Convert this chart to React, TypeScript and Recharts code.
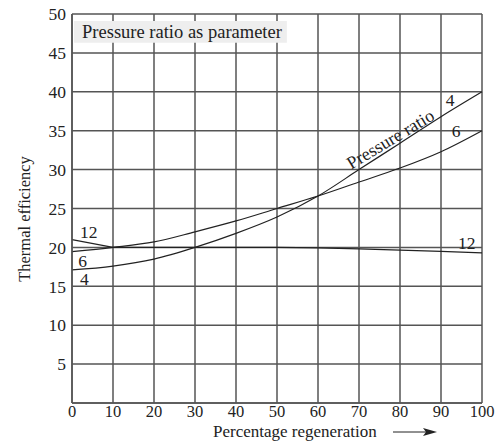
import {
  LineChart,
  Line,
  XAxis,
  YAxis,
  CartesianGrid,
  ReferenceArea,
  ReferenceDot,
} from 'recharts'

const FONT = '"Liberation Serif", "DejaVu Serif", serif'
const INK = '#222'
const GRID = '#555'

const regeneration = [0, 10, 20, 30, 40, 50, 60, 70, 80, 90, 100]
const ratio4 = [17.1, 17.6, 18.5, 20.0, 21.8, 23.9, 26.6, 30.0, 33.4, 36.8, 40.0]
const ratio6 = [19.45, 20.0, 20.7, 22.0, 23.4, 25.0, 26.6, 28.4, 30.2, 32.3, 35.0]
const ratio12 = [21.0, 20.0, 20.0, 20.0, 20.0, 20.0, 19.95, 19.8, 19.65, 19.5, 19.3]

const xTicks = [0, 10, 20, 30, 40, 50, 60, 70, 80, 90, 100]
const yTicks = [5, 10, 15, 20, 25, 30, 35, 40, 45, 50]

// curve tags: [text, x, y]
const curveTags: [string, number, number][] = [
  ['12', 4.1, 22.0],
  ['6', 2.6, 18.2],
  ['4', 3.0, 15.9],
  ['4', 92.2, 38.9],
  ['6', 93.7, 35.0],
  ['12', 96.3, 20.6],
]

const data = regeneration.map((x, i) => ({
  x,
  r4: ratio4[i],
  r6: ratio6[i],
  r12: ratio12[i],
}))

// eslint-disable-next-line @typescript-eslint/no-explicit-any
const tagLabel = (value: string) => (props: any) => {
  const { viewBox } = props
  const cx = viewBox.x + viewBox.width / 2
  const cy = viewBox.y + viewBox.height / 2
  return (
    <text x={cx} y={cy} dy={6} textAnchor="middle" fontSize={17.5} fontFamily={FONT} fill={INK}>
      {value}
    </text>
  )
}

// eslint-disable-next-line @typescript-eslint/no-explicit-any
const slantLabel = (props: any) => {
  const { viewBox } = props
  const cx = viewBox.x + viewBox.width / 2
  const cy = viewBox.y + viewBox.height / 2
  return (
    <text
      x={cx}
      y={cy}
      dy={5}
      textAnchor="middle"
      fontSize={18}
      fontFamily={FONT}
      fill={INK}
      transform={`rotate(-31 ${cx} ${cy})`}
    >
      Pressure ratio
    </text>
  )
}

// eslint-disable-next-line @typescript-eslint/no-explicit-any
const boxLabel = (props: any) => {
  const { viewBox } = props
  return (
    <text
      x={viewBox.x + 8}
      y={viewBox.y + viewBox.height / 2}
      dy={6}
      fontSize={18.5}
      fontFamily={FONT}
      fill={INK}
    >
      Pressure ratio as parameter
    </text>
  )
}

// eslint-disable-next-line @typescript-eslint/no-explicit-any
const xAxisLabel = (props: any) => {
  const { viewBox } = props
  const x0 = viewBox.x + 141
  const y0 = 437
  return (
    <g>
      <text x={x0} y={y0} fontSize={17} fontFamily={FONT} fill={INK}>
        Percentage regeneration
      </text>
      <line x1={x0 + 180} y1={y0 - 5} x2={x0 + 216} y2={y0 - 5} stroke={INK} strokeWidth={1} />
      <polygon
        points={`${x0 + 224},${y0 - 5} ${x0 + 210},${y0 - 9} ${x0 + 213},${y0 - 5} ${x0 + 210},${y0 - 1}`}
        fill={INK}
      />
    </g>
  )
}

const yAxisLabel = () => {
  const cx = 24
  const cy = 219
  return (
    <text
      x={cx}
      y={cy}
      textAnchor="middle"
      dominantBaseline="central"
      fontSize={16.5}
      fontFamily={FONT}
      fill={INK}
      transform={`rotate(-90 ${cx} ${cy})`}
    >
      Thermal efficiency
    </text>
  )
}

export default function App() {
  return (
    <div style={{ position: 'absolute', left: 0, top: 0, background: '#fff' }}>
      <LineChart
        width={503}
        height={441}
        data={data}
        margin={{ top: 14, right: 21, bottom: 0, left: 0 }}
      >
        <CartesianGrid stroke={GRID} strokeWidth={1.5} />
        <XAxis
          dataKey="x"
          type="number"
          domain={[0, 100]}
          ticks={xTicks}
          height={38}
          tickLine={false}
          tickSize={0}
          tickMargin={2}
          axisLine={{ stroke: GRID, strokeWidth: 1.5 }}
          tick={{ fill: INK, fontSize: 16.5, fontFamily: FONT }}
          interval={0}
          label={xAxisLabel}
        />
        <YAxis
          type="number"
          domain={[0, 50]}
          ticks={yTicks}
          width={72}
          tickLine={false}
          tickSize={0}
          tickMargin={6}
          axisLine={{ stroke: GRID, strokeWidth: 1.5 }}
          tick={{ fill: INK, fontSize: 17.5, fontFamily: FONT }}
          interval={0}
          label={yAxisLabel}
        />
        <ReferenceArea
          x1={0.5}
          x2={52.4}
          y1={46.3}
          y2={49.1}
          fill="#eeeeee"
          fillOpacity={1}
          stroke="none"
          label={boxLabel}
        />
        <Line type="monotone" dataKey="r4" stroke={INK} strokeWidth={1.2} dot={false} isAnimationActive={false} />
        <Line type="monotone" dataKey="r6" stroke={INK} strokeWidth={1.2} dot={false} isAnimationActive={false} />
        <Line type="linear" dataKey="r12" stroke={INK} strokeWidth={1.2} dot={false} isAnimationActive={false} />
        {curveTags.map(([t, x, y], i) => (
          <ReferenceDot key={i} x={x} y={y} r={0} stroke="none" fill="none" label={tagLabel(t)} />
        ))}
        <ReferenceDot x={77.8} y={33.8} r={0} stroke="none" fill="none" label={slantLabel} />
      </LineChart>
    </div>
  )
}
